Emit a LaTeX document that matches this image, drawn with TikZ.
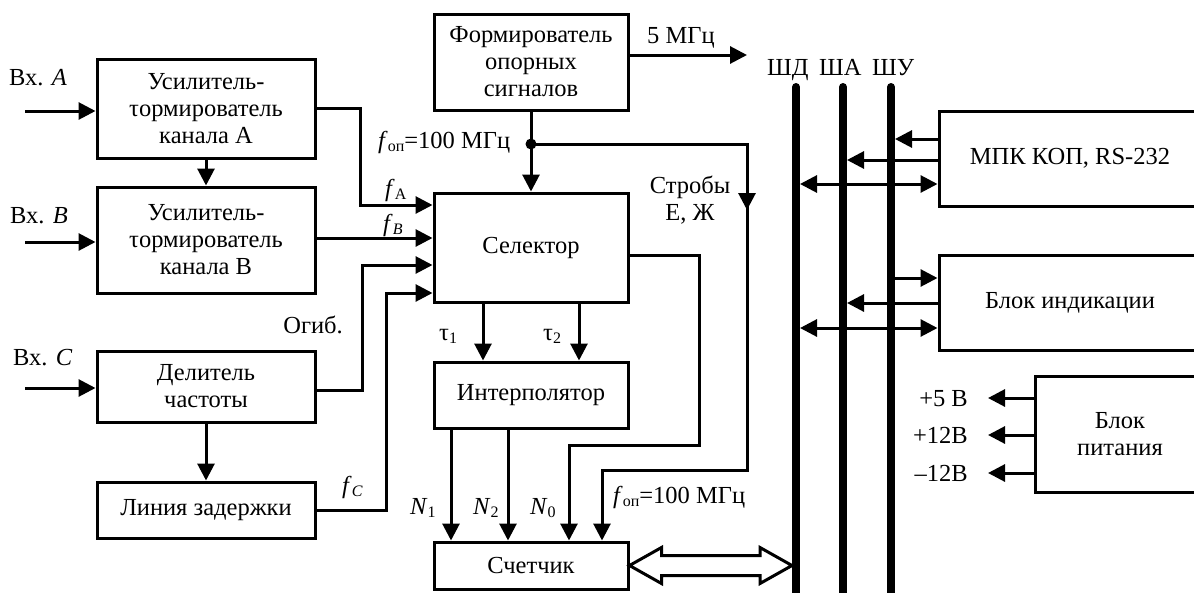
\documentclass[tikz,border=0pt]{standalone}
\usepackage{fontspec}
\setmainfont{Liberation Serif}
\usetikzlibrary{arrows.meta}
\newcommand\lsub[1]{\raisebox{-0.15em}{\fontsize{16}{16}\selectfont #1}}
\begin{document}
\begin{tikzpicture}[x=1pt,y=-1pt,
  font=\fontsize{24.5}{27}\selectfont,
  blk/.style={draw, line width=3pt, align=center, inner sep=0pt},
  lbl/.style={inner sep=0pt},
  ln/.style={line width=3pt},
  arr/.style={ln, -{Triangle[length=17pt,width=17pt]}},
  darr/.style={ln, {Triangle[length=17pt,width=17pt]}-{Triangle[length=17pt,width=17pt]}},
  bus/.style={line width=8pt, line cap=round},
  hollow/.style={line width=3pt, fill=white, line join=miter}]
\useasboundingbox (0,0) rectangle (1194,592);
\clip (0,0) rectangle (1194,592);

% blocks
\node[blk, minimum width=218pt, minimum height=99pt] (ua) at (206,108.5) {Усилитель-\\τормирователь\\канала А};
\node[blk, minimum width=218pt, minimum height=106pt] (ub) at (206,240) {Усилитель-\\τормирователь\\канала В};
\node[blk, minimum width=218pt, minimum height=71pt] (del) at (206,386.5) {Делитель\\частоты};
\node[blk, minimum width=218pt, minimum height=56pt] (lin) at (206,510) {Линия задержки};
\node[blk, minimum width=194pt, minimum height=96pt] (form) at (531,62) {Формирователь\\опорных\\сигналов};
\node[blk, minimum width=194pt, minimum height=109pt] (sel) at (531,247.5) {Селектор};
\node[blk, minimum width=194pt, minimum height=66pt] (int) at (531,395) {Интерполятор};
\node[blk, minimum width=194pt, minimum height=47pt] (cnt) at (531,565.5) {Счетчик};
\node[blk, minimum width=262pt, minimum height=95pt] (mpk) at (1070,158.5) {МПК КОП, RS-232};
\node[blk, minimum width=262pt, minimum height=95pt] (ind) at (1070,302.5) {Блок индикации};
\node[blk, minimum width=170pt, minimum height=116pt] (pit) at (1120,434) {Блок\\питания};

% inputs
\coordinate (inA) at (25,111);
\coordinate (inB) at (25,242);
\coordinate (inC) at (25,388);
\draw[arr] (inA) -- (inA -| ua.west);
\draw[arr] (inB) -- (inB -| ub.west);
\draw[arr] (inC) -- (inC -| del.west);
\node[lbl, anchor=base west] (lA) at (9,85) {Вх. \textit{A}};
\node[lbl, anchor=base west] (lB) at (10,223) {Вх. \textit{B}};
\node[lbl, anchor=base west] (lC) at (13,365) {Вх. \textit{C}};

\draw[arr] (ua.south) -- (ub.north);
\draw[arr] (del.south) -- (lin.north);

% selector inputs
\coordinate (bA) at (360,205);
\coordinate (yB) at (0,238);
\coordinate (bO) at (362,265);
\coordinate (bC) at (386,293);
\draw[arr] (ua.east) -| (bA) -- (bA -| sel.west);
\draw[arr] (ub.east |- yB) -- (sel.west |- yB);
\draw[arr] (del.east |- 0,390) -| (bO) -- (bO -| sel.west);
\draw[arr] (lin.east) -| (bC) -- (bC -| sel.west);
\node[lbl, anchor=base west] (tfA) at (385,196) {\textit{f}\lsub{А}};
\node[lbl, anchor=base west] (tfB) at (383,231) {\textit{f}\lsub{\textit{B}}};
\node[lbl, anchor=base east] (tOg) at (343,333) {Огиб.};
\node[lbl, anchor=base west] (tfC) at (342,493) {\textit{f}\lsub{\textit{C}}};

% reference former
\coordinate (dot) at (531,144);
\coordinate (o5) at (747,55);
\draw[arr] (form.south) -- (sel.north);
\fill (dot) circle (5.5pt);
\draw[arr] (form.east |- o5) -- (o5);
\node[lbl, anchor=base west] (t5) at (647,43) {5 МГц};
\node[lbl, anchor=base west] (tfop) at (378,148) {\textit{f}\lsub{оп}=100 МГц};

% strobe line
\coordinate (s1) at (747,144);
\coordinate (sm) at (747,210);
\coordinate (s2) at (747,470);
\coordinate (s3) at (602,470);
\draw[arr] (dot) -- (s1) -- (s2) -- (s3) -- (s3 |- cnt.north);
\draw[arr] (s1) -- (sm);
\node[lbl, align=center] (tstr) at (690,200) {Стробы\\Е, Ж};
\node[lbl, anchor=base west] (tfop2) at (613,503) {\textit{f}\lsub{оп}=100 МГц};

% selector -> counter N0
\coordinate (n1) at (699,255);
\coordinate (n2) at (699,445);
\coordinate (n3) at (569,445);
\draw[arr] (sel.east |- n1) -- (n1) -- (n2) -- (n3) -- (n3 |- cnt.north);

% tau
\draw[arr] (sel.south -| 483,0) -- (int.north -| 483,0);
\draw[arr] (sel.south -| 579,0) -- (int.north -| 579,0);
\node[lbl, anchor=base west] (tt1) at (439,340) {τ\lsub{1}};
\node[lbl, anchor=base west] (tt2) at (543,340) {τ\lsub{2}};

% N1 N2
\draw[arr] (int.south -| 451,0) -- (cnt.north -| 451,0);
\draw[arr] (int.south -| 508,0) -- (cnt.north -| 508,0);
\node[lbl, anchor=base west] (tN1) at (410,514) {\textit{N}\lsub{1}};
\node[lbl, anchor=base west] (tN2) at (473,514) {\textit{N}\lsub{2}};
\node[lbl, anchor=base west] (tN0) at (530,514) {\textit{N}\lsub{0}};

% buses
\coordinate (dTop) at (796,87);
\coordinate (aTop) at (843,87);
\coordinate (uTop) at (891,87);
\draw[bus] (dTop) -- (796,600);
\draw[bus] (aTop) -- (843,600);
\draw[bus] (uTop) -- (891,600);
\node[lbl, anchor=base west] (tD) at (767,75) {ШД};
\node[lbl, anchor=base west] (tA) at (819,75) {ША};
\node[lbl, anchor=base west] (tU) at (872,75) {ШУ};

% hollow double arrow counter <-> bus
\coordinate (ha) at (cnt.east);
\coordinate (hb) at (cnt.east -| 792,0);
\draw[hollow] (ha) -- ([shift={(32,-18)}]ha) -- ([shift={(32,-10)}]ha) -- ([shift={(-32,-10)}]hb) -- ([shift={(-32,-18)}]hb) -- (hb) -- ([shift={(-32,18)}]hb) -- ([shift={(-32,10)}]hb) -- ([shift={(32,10)}]ha) -- ([shift={(32,18)}]ha) -- cycle;

% MPK links
\coordinate (eU) at (895,0);
\coordinate (eA) at (847,0);
\coordinate (eD) at (800,0);
\draw[arr] (mpk.west |- 0,139) -- (eU |- 0,139);
\draw[arr] (mpk.west |- 0,160) -- (eA |- 0,160);
\draw[darr] (eD |- 0,184) -- (mpk.west |- 0,184);
\draw[arr] (eU |- 0,278) -- (ind.west |- 0,278);
\draw[arr] (ind.west |- 0,303) -- (eA |- 0,303);
\draw[darr] (eD |- 0,328) -- (ind.west |- 0,328);

% power
\coordinate (p1) at (988,398);
\coordinate (p2) at (988,435);
\coordinate (p3) at (988,473);
\draw[arr] (pit.west |- p1) -- (p1);
\draw[arr] (pit.west |- p2) -- (p2);
\draw[arr] (pit.west |- p3) -- (p3);
\node[lbl, anchor=base east] (tp1) at (968,406) {+5 В};
\node[lbl, anchor=base east] (tp2) at (968,443) {+12В};
\node[lbl, anchor=base east] (tp3) at (968,481) {–12В};
\end{tikzpicture}
\end{document}
